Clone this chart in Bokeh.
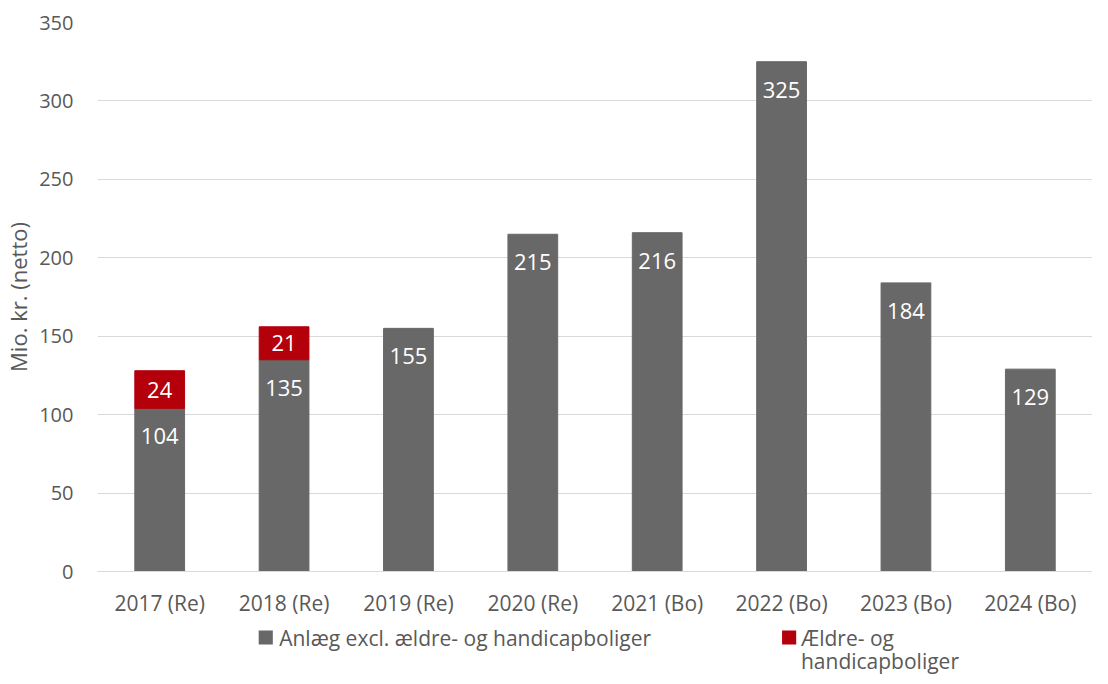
from bokeh.plotting import figure
from bokeh.layouts import column
from bokeh.models import (ColumnDataSource, SingleIntervalTicker, Label, Range1d, BoxAnnotation)
from bokeh.core.properties import value
from bokeh.embed import file_html
from bokeh.resources import INLINE

years = ["2017 (Re)", "2018 (Re)", "2019 (Re)", "2020 (Re)", "2021 (Bo)", "2022 (Bo)", "2023 (Bo)", "2024 (Bo)"]
anlaeg = [104, 135, 155, 215, 216, 325, 184, 129]
aeldre = [24, 21, 0, 0, 0, 0, 0, 0]
series_names = ["Anlæg excl. ældre- og handicapboliger", "Ældre- og", "handicapboliger"]
colors = ["#686868", "#B4000B"]
FONT = "Open Sans"
GREY_TXT = "#595959"

src_a = ColumnDataSource(dict(x=years, a=anlaeg, la=[str(v) for v in anlaeg]))
idx = [i for i, v in enumerate(aeldre) if v]
src_b = ColumnDataSource(dict(x=[years[i] for i in idx],
                              bottom=[anlaeg[i] for i in idx],
                              top=[anlaeg[i] + aeldre[i] for i in idx],
                              mid=[anlaeg[i] + aeldre[i] / 2 for i in idx],
                              lb=[str(aeldre[i]) for i in idx]))

W = 1092
H1, H2 = 620, 56
p = figure(x_range=years, y_range=(0, 350), width=W, height=H1,
           output_backend="svg", toolbar_location=None,
           min_border_left=96, min_border_right=0, min_border_top=22, min_border_bottom=49)
p.outline_line_color = None

r1 = p.vbar(x="x", top="a", bottom=0, width=0.4, color=colors[0], source=src_a)
r2 = p.vbar(x="x", top="top", bottom="bottom", width=0.4, color=colors[1], source=src_b)

p.text(x="x", y="a", text="la", source=src_a, text_color="white", text_font=value(FONT),
       text_font_size="22px", text_align="center", text_baseline="top", y_offset=20)
p.text(x="x", y="mid", text="lb", source=src_b, text_color="white", text_font=value(FONT),
       text_font_size="22px", text_align="center", text_baseline="middle")

p.yaxis.ticker = SingleIntervalTicker(interval=50)
p.yaxis.axis_line_color = None
p.yaxis.major_tick_line_color = None
p.yaxis.minor_tick_line_color = None
p.yaxis.major_tick_out = 0
p.yaxis.axis_label = "Mio. kr. (netto)"
p.yaxis.axis_label_text_font = FONT
p.yaxis.axis_label_text_font_style = "normal"
p.yaxis.axis_label_text_font_size = "22px"
p.yaxis.axis_label_text_color = GREY_TXT
p.yaxis.axis_label_standoff = 3
p.xaxis.axis_line_color = "#d9d9d9"
p.xaxis.major_tick_line_color = None
p.xaxis.minor_tick_line_color = None
p.xaxis.major_tick_out = 0
for ax in (p.xaxis, p.yaxis):
    ax.major_label_text_font = FONT
    ax.major_label_text_font_size = "20px"
    ax.major_label_text_color = GREY_TXT
p.xaxis.major_label_text_font_size = "21px"
p.yaxis.major_label_standoff = 20
p.xaxis.major_label_standoff = 17
p.xgrid.grid_line_color = None
p.ygrid.grid_line_color = "#d9d9d9"
p.ygrid.grid_line_width = 1

# legend strip below the chart: x as a fraction of the plot frame width, y in pixels
leg = figure(width=W, height=H2, x_range=Range1d(0, 1), y_range=Range1d(0, H2),
             output_backend="svg", toolbar_location=None,
             x_axis_location=None, y_axis_location=None,
             min_border=0, min_border_left=0, min_border_right=0,
             min_border_top=0, min_border_bottom=0)
leg.outline_line_color = None
leg.grid.visible = False

row1, row2 = H2 - 17, H2 - 40
key_w = 14 / 986
keys = [(0.162, colors[0]), (0.688, colors[1])]
for kx, kc in keys:
    leg.add_layout(BoxAnnotation(left=kx, right=kx + key_w, bottom=row1 - 7, top=row1 + 7,
                                 fill_color=kc, fill_alpha=1, line_color=None))
txt = dict(text_font=FONT, text_font_size="21px", text_color=GREY_TXT, text_baseline="middle")
leg.add_layout(Label(x=0.1826, y=row1, text=series_names[0], **txt))
leg.add_layout(Label(x=0.707, y=row1, text=series_names[1], **txt))
leg.add_layout(Label(x=0.707, y=row2, text=series_names[2], **txt))

open("out.html", "w").write(file_html(column(p, leg, spacing=0), INLINE))
